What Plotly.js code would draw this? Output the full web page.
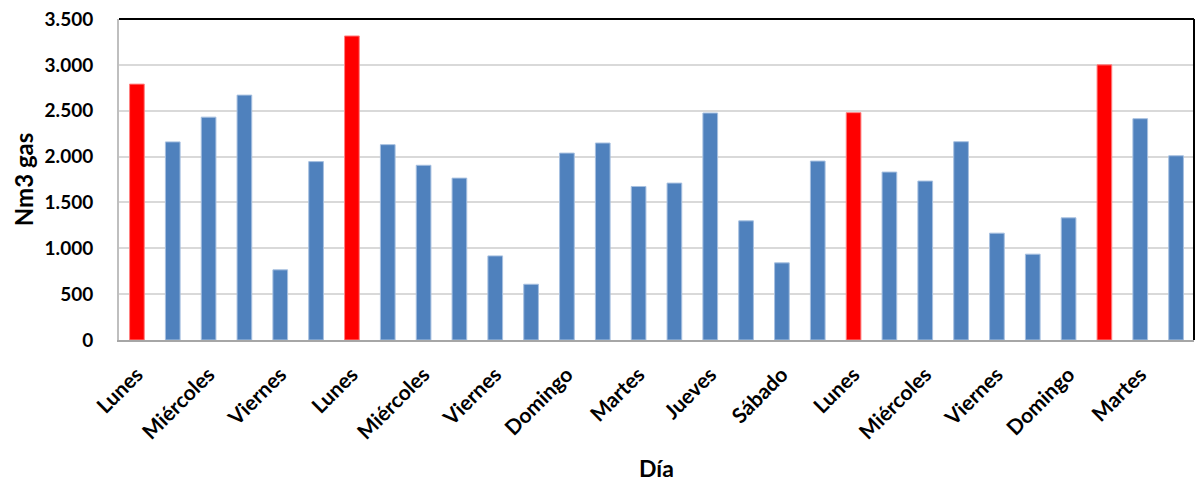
<!DOCTYPE html>
<html>
<head>
<meta charset="utf-8">
<script src="https://cdn.plot.ly/plotly-3.0.1.min.js"></script>
<style>
  html, body { margin: 0; padding: 0; background: #fff; }
  #chart { width: 1197px; height: 482px; }
</style>
</head>
<body>
<div id="chart"></div>
<script>
// Daily gas consumption (Nm3), one bar per day
const days = [
  "Lunes", "Martes", "Miércoles", "Jueves", "Viernes", "Sábado",
  "Lunes", "Martes", "Miércoles", "Jueves", "Viernes", "Sábado", "Domingo",
  "Lunes", "Martes", "Miércoles", "Jueves", "Viernes", "Sábado", "Domingo",
  "Lunes", "Martes", "Miércoles", "Jueves", "Viernes", "Sábado", "Domingo",
  "Lunes", "Martes", "Miércoles"
];
const gasNm3 = [
  2790, 2160, 2430, 2670, 765, 1945,
  3315, 2130, 1905, 1765, 917, 608, 2038,
  2148, 1674, 1711, 2475, 1299, 841, 1951,
  2479, 1831, 1733, 2162, 1165, 936, 1332,
  3000, 2413, 2009
];
// Highlighted days (drawn in red)
const highlighted = [0, 6, 20, 27];

// Every other day gets an axis label
const labelStep = 2;

const BLUE = "#4F81BD";
const RED = "#FF0000";

const idx = days.map((_, i) => i);
const colors = idx.map(i => highlighted.includes(i) ? RED : BLUE);
const edges = idx.map(i => highlighted.includes(i) ? "#FF8080" : "#A7C0E0");
const tickVals = idx.filter(i => i % labelStep === 0);
const tickText = tickVals.map(i => days[i]);

const FONT = "Lato, 'Open Sans', sans-serif";

const trace = {
  type: "bar",
  x: idx,
  y: gasNm3,
  marker: { color: colors, line: { color: edges, width: 1 } },
  hoverinfo: "skip"
};

const layout = {
  width: 1197,
  height: 482,
  margin: { l: 119, r: 3, t: 19, b: 142 },
  paper_bgcolor: "#fff",
  plot_bgcolor: "#fff",
  separators: ",.",
  bargap: 0.59,
  showlegend: false,
  font: { family: FONT, color: "#000" },
  xaxis: {
    range: [-0.5, days.length - 0.5],
    tickmode: "array",
    tickvals: tickVals,
    ticktext: tickText,
    tickangle: -45,
    tickfont: { family: FONT, size: 21, color: "#000", weight: "bold" },
    ticklabelstandoff: 12,
    showgrid: false,
    zeroline: false,
    showline: true,
    linecolor: "#A6A6A6",
    linewidth: 2,
    ticks: "",
    title: { text: "Día", font: { family: FONT, size: 23, color: "#000", weight: "bold" }, standoff: 40 },
    automargin: false
  },
  yaxis: {
    range: [0, 3500],
    dtick: 500,
    tickformat: ",d",
    tickfont: { family: FONT, size: 19, color: "#000", weight: "bold" },
    showgrid: true,
    gridcolor: "#D9D9D9",
    gridwidth: 2,
    zeroline: false,
    showline: true,
    linecolor: "#BFBFBF",
    linewidth: 2,
    ticks: "",
    ticklabelstandoff: 20,
    title: { text: "Nm3 gas", font: { family: FONT, size: 24, color: "#000", weight: "bold" }, standoff: 4 },
    automargin: false
  },
  shapes: [
    // dark frame on top and right of the plot area
    { type: "line", xref: "paper", yref: "paper", x0: 0, x1: 1, y0: 1, y1: 1,
      line: { color: "#000", width: 2 } },
    { type: "line", xref: "paper", yref: "paper", x0: 1, x1: 1, y0: 0, y1: 1,
      line: { color: "#000", width: 2 } }
  ]
};

Plotly.newPlot("chart", [trace], layout, { staticPlot: true, displayModeBar: false });
</script>
</body>
</html>
